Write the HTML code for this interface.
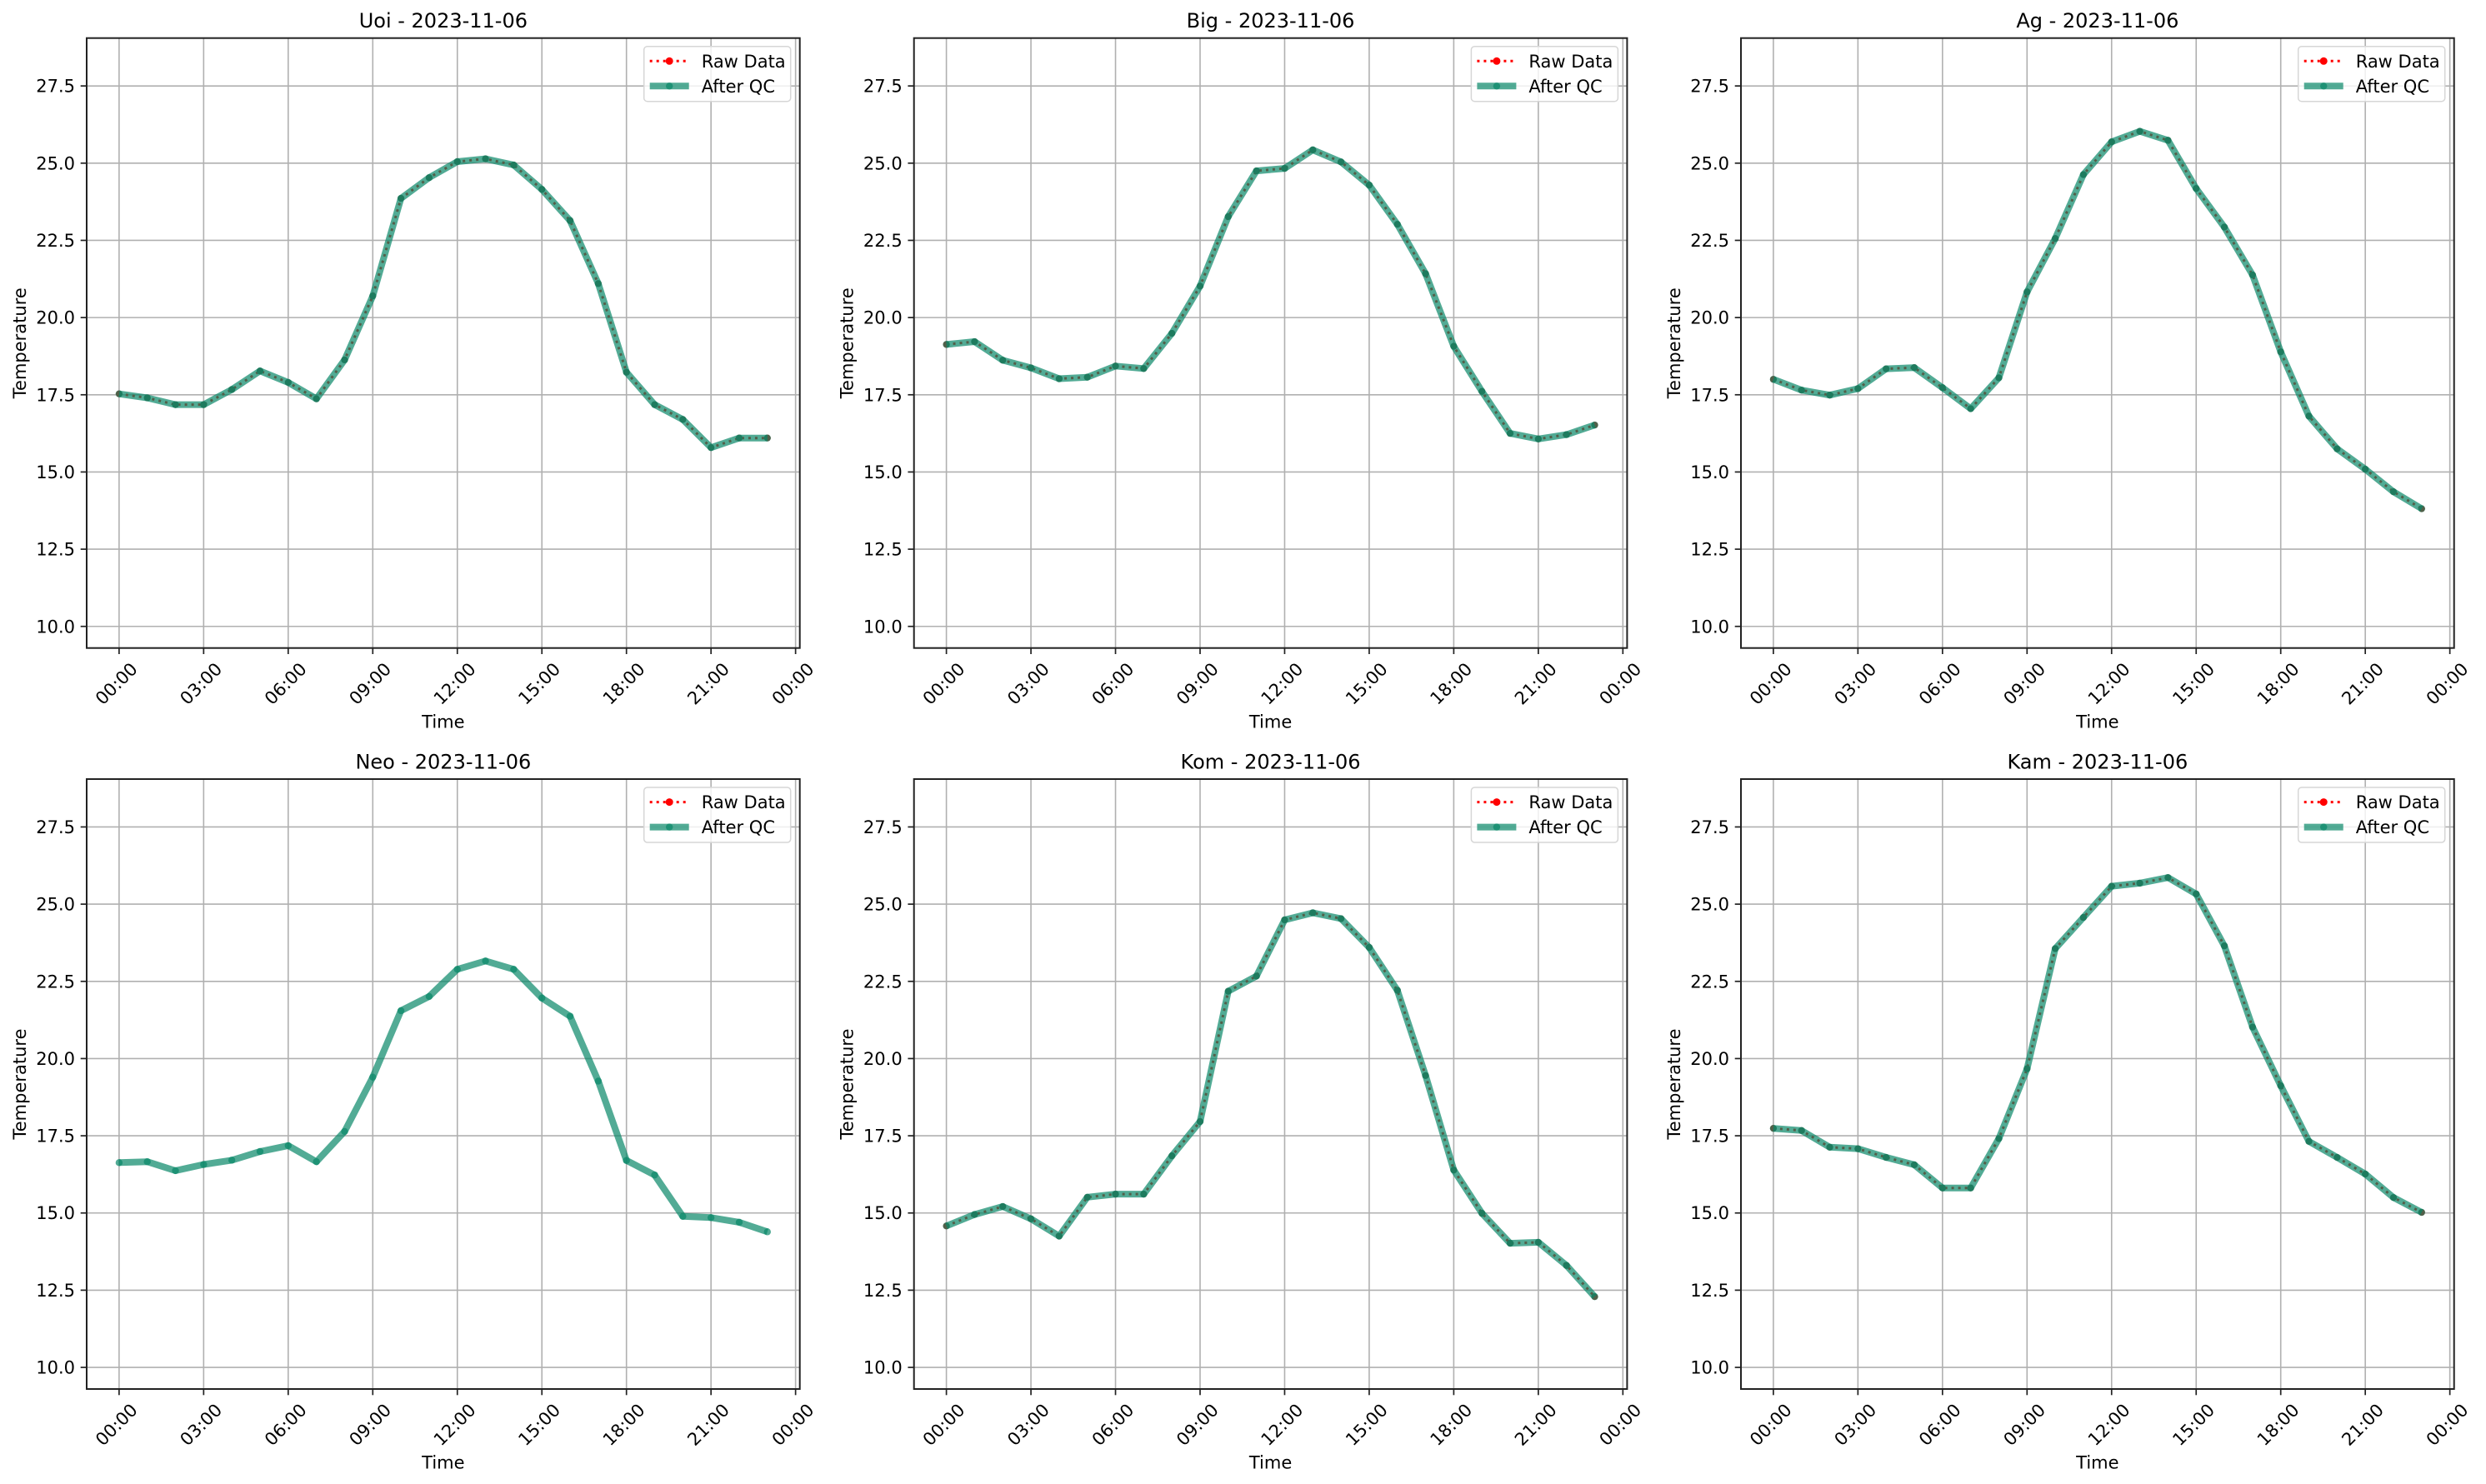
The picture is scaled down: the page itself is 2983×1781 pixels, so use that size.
<!DOCTYPE html>
<html><head><meta charset="utf-8">
<style>
html,body{margin:0;padding:0;background:#fff;}
svg{display:block;font-family:"DejaVu Sans","Liberation Sans",sans-serif;}
</style></head>
<body>
<svg id="fig" width="2983" height="1781" viewBox="0 0 2983 1781" xmlns="http://www.w3.org/2000/svg"></svg>
<script>
const hours = [0,1,2,3,4,5,6,7,8,9,10,11,12,13,14,15,16,17,18,19,20,21,22,23];
const stationNames = ["Uoi","Big","Ag","Neo","Kom","Kam"];
const tempUoi = [17.53,17.4,17.18,17.18,17.67,18.27,17.9,17.37,18.63,20.7,23.86,24.53,25.05,25.14,24.94,24.15,23.14,21.1,18.23,17.18,16.7,15.79,16.1,16.1];
const tempBig = [19.13,19.22,18.62,18.37,18.02,18.07,18.43,18.35,19.49,21.02,23.27,24.75,24.83,25.43,25.04,24.29,23.02,21.42,19.07,17.61,16.25,16.07,16.21,16.52];
const tempAg = [18.0,17.65,17.49,17.7,18.34,18.38,17.73,17.05,18.05,20.83,22.56,24.63,25.69,26.03,25.74,24.18,22.93,21.38,18.89,16.81,15.75,15.09,14.36,13.81];
const tempNeo = [16.63,16.66,16.37,16.57,16.71,16.99,17.18,16.66,17.64,19.4,21.55,22.01,22.89,23.16,22.89,21.96,21.37,19.27,16.7,16.23,14.89,14.85,14.7,14.39];
const tempKom = [14.58,14.95,15.21,14.81,14.25,15.51,15.61,15.61,16.85,17.96,22.18,22.67,24.49,24.72,24.53,23.6,22.21,19.45,16.39,14.99,14.02,14.05,13.3,12.29];
const tempKam = [17.74,17.67,17.13,17.08,16.8,16.56,15.81,15.81,17.41,19.67,23.56,24.57,25.58,25.68,25.86,25.33,23.65,21.02,19.12,17.32,16.8,16.26,15.5,15.02];
const hasRaw = [true,true,true,false,true,true];
const yTicks = [10.0,12.5,15.0,17.5,20.0,22.5,25.0,27.5];
const xTickHours = [0,3,6,9,12,15,18,21,24];
const xTickLabels = ["00:00","03:00","06:00","09:00","12:00","15:00","18:00","21:00","00:00"];
const dateLabel = "2023-11-06";

const series = [tempUoi,tempBig,tempAg,tempNeo,tempKom,tempKam];
const NS = "http://www.w3.org/2000/svg";
const fig = document.getElementById('fig');
const AX_W = 855.7, AX_H = 732;
const colX = [104, 1096.7, 2089];
const rowY = [45.7, 935];
const xMin = -1.15, xMax = 24.15, yMin = 9.3, yMax = 29.05;

function mk(tag, attrs, parent){
  const e = document.createElementNS(NS, tag);
  for (const k in attrs) e.setAttribute(k, attrs[k]);
  parent.appendChild(e);
  return e;
}

series.forEach((data, i) => {
  const L = colX[i % 3], T = rowY[Math.floor(i / 3)];
  const xs = h => L + (h - xMin) / (xMax - xMin) * AX_W;
  const ys = v => T + (yMax - v) / (yMax - yMin) * AX_H;
  const name = stationNames[i].toLowerCase();

  const g = mk('g', {}, fig);
  
  

  const grid = mk('g', {stroke:'#b0b0b0','stroke-width':1.6}, g);
  
  
  xTickHours.forEach(h => { mk('line', {x1:xs(h),x2:xs(h),y1:T,y2:T+AX_H}, grid); });
  yTicks.forEach(v => { mk('line', {x1:L,x2:L+AX_W,y1:ys(v),y2:ys(v)}, grid); });

  const pts = hours.map((h, k) => xs(h).toFixed(1) + ',' + ys(data[k]).toFixed(1)).join(' ');
  if (hasRaw[i]) {
    const raw = mk('g', {}, g);
    
    
    mk('polyline', {points:pts, fill:'none', stroke:'#ff0000', 'stroke-width':3, 'stroke-dasharray':'3 5'}, raw);
    hours.forEach((h, k) => {
      const c = mk('circle', {cx:xs(h), cy:ys(data[k]), r:4, fill:'#ff0000'}, raw);
      
      
    });
  }
  const qc = mk('g', {}, g);
  
  
  mk('polyline', {points:pts, fill:'none', stroke:'#088768', 'stroke-opacity':0.7, 'stroke-width':8, 'stroke-linejoin':'round'}, qc);
  hours.forEach((h, k) => {
    const c = mk('circle', {cx:xs(h), cy:ys(data[k]), r:4.2, fill:'#088768', 'fill-opacity':0.7}, qc);
    
    
  });

  const sp = mk('rect', {x:L, y:T, width:AX_W, height:AX_H, fill:'none', stroke:'#222', 'stroke-width':2}, g);
  
  

  yTicks.forEach(v => {
    mk('line', {x1:L-7.3, x2:L, y1:ys(v), y2:ys(v), stroke:'#222', 'stroke-width':1.7}, g);
    const t = mk('text', {x:L-14, y:ys(v)+7.5, 'text-anchor':'end', 'font-size':21, fill:'#000'}, g);
    t.textContent = v.toFixed(1);
    
    
  });
  xTickHours.forEach((h, k) => {
    const x = xs(h);
    mk('line', {x1:x, x2:x, y1:T+AX_H, y2:T+AX_H+7.3, stroke:'#222', 'stroke-width':1.7}, g);
    const cy = T + AX_H + 43;
    const t = mk('text', {x:x-3, y:cy, 'text-anchor':'middle', 'dominant-baseline':'central', 'font-size':21, fill:'#000', transform:'rotate(-45 ' + (x-3) + ' ' + cy + ')'}, g);
    t.textContent = xTickLabels[k];
    
    
  });

  const tt = mk('text', {x:L+AX_W/2, y:T-12.7, 'text-anchor':'middle', 'font-size':24, fill:'#000'}, g);
  tt.textContent = stationNames[i] + ' - ' + dateLabel;
  
  
  const xl = mk('text', {x:L+AX_W/2, y:T+AX_H+95.7, 'text-anchor':'middle', 'font-size':21, fill:'#000'}, g);
  xl.textContent = 'Time';
  
  
  const yc = T + AX_H/2;
  const yl = mk('text', {x:L-80, y:yc, 'text-anchor':'middle', 'dominant-baseline':'central', 'font-size':21, fill:'#000', transform:'rotate(-90 ' + (L-80) + ' ' + yc + ')'}, g);
  yl.textContent = 'Temperature';
  
  

  const lg = mk('g', {}, g);
  
  
  const lx = L + AX_W - 187, ly = T + 10;
  mk('rect', {x:lx, y:ly, width:176, height:66, rx:4, fill:'#fff', 'fill-opacity':0.8, stroke:'#d6d6d6', 'stroke-width':1.5}, lg);
  const r1 = ly + 17.6, r2 = ly + 47.6;
  const e1 = mk('g', {}, lg);
  
  
  mk('line', {x1:lx+7, x2:lx+54, y1:r1, y2:r1, stroke:'#ff0000', 'stroke-width':3, 'stroke-dasharray':'3 5'}, e1);
  mk('circle', {cx:lx+30.5, cy:r1, r:4.5, fill:'#ff0000'}, e1);
  const t1 = mk('text', {x:lx+69, y:r1+7.5, 'font-size':21, fill:'#000'}, e1);
  t1.textContent = 'Raw Data';
  const e2 = mk('g', {}, lg);
  
  
  mk('line', {x1:lx+7, x2:lx+54, y1:r2, y2:r2, stroke:'#088768', 'stroke-opacity':0.7, 'stroke-width':8}, e2);
  mk('circle', {cx:lx+30.5, cy:r2, r:4.2, fill:'#088768', 'fill-opacity':0.7}, e2);
  const t2 = mk('text', {x:lx+69, y:r2+7.5, 'font-size':21, fill:'#000'}, e2);
  t2.textContent = 'After QC';
});
</script>
</body></html>
